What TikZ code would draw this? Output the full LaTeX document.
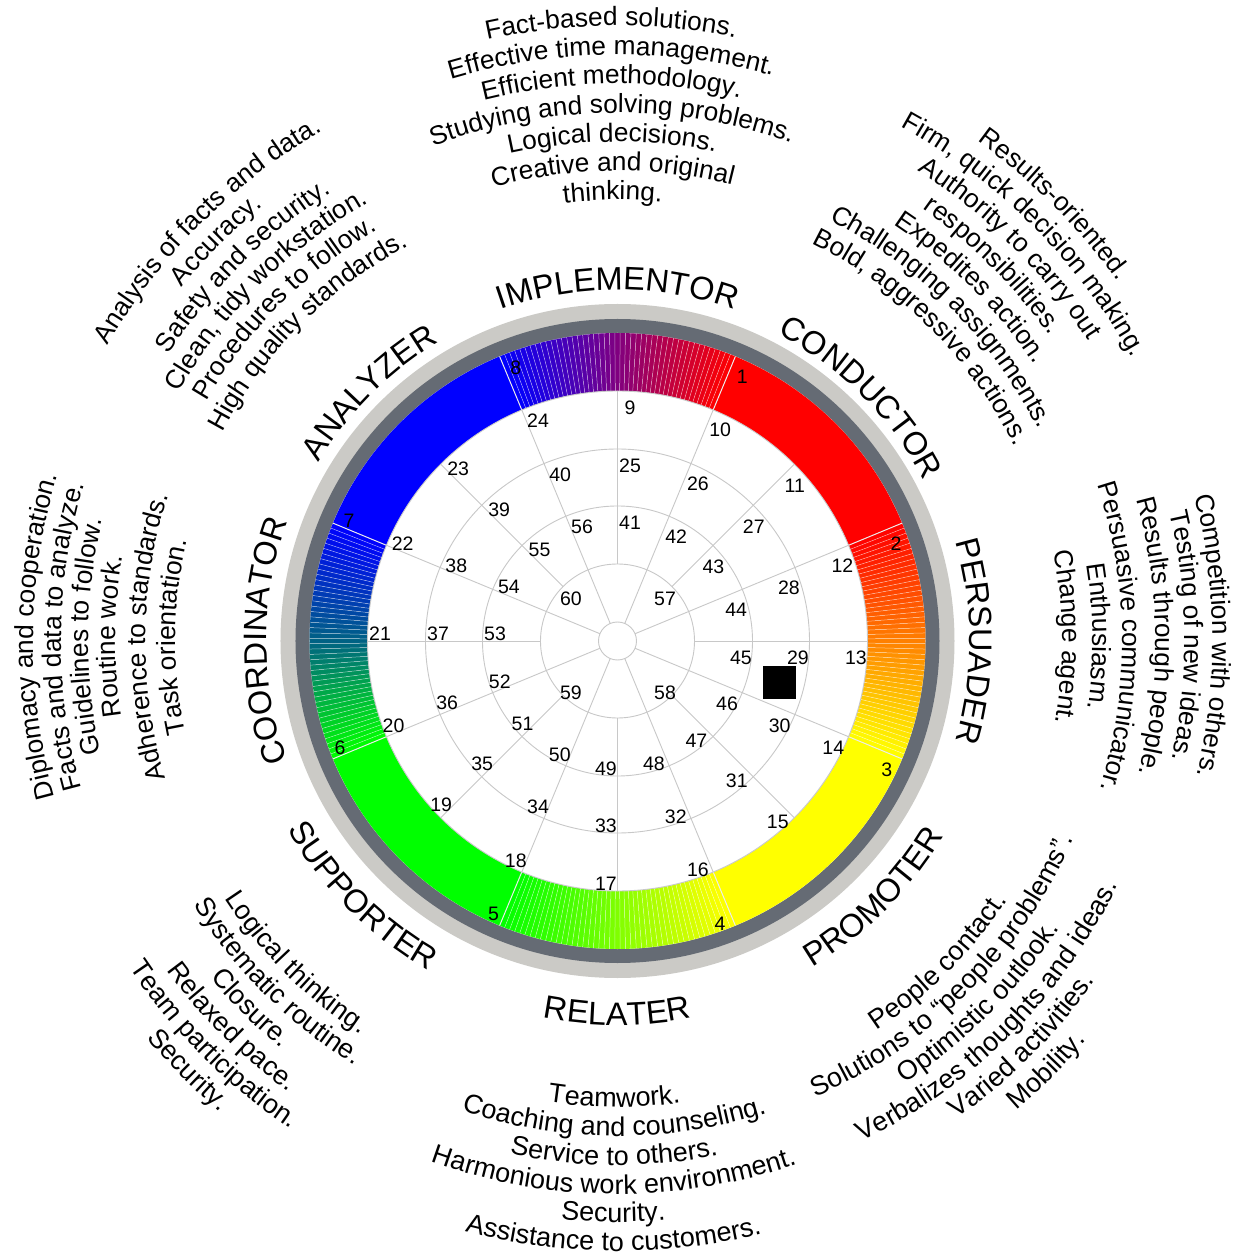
\documentclass[tikz,border=0pt]{standalone}
\usepackage{fontspec}
\setmainfont{Liberation Sans}
\usetikzlibrary{decorations.text,calc}
\definecolor{ringlight}{HTML}{CBCAC6}
\definecolor{ringdark}{HTML}{656B74}
\definecolor{gridgray}{HTML}{C8C8C8}
\definecolor{cRed}{RGB}{255,0,0}
\definecolor{cYellow}{RGB}{255,255,0}
\definecolor{cGreen}{RGB}{0,255,0}
\definecolor{cBlue}{RGB}{0,0,255}
\definecolor{implmid}{RGB}{128,0,128}
\definecolor{persmid}{RGB}{255,128,0}
\definecolor{relmid}{RGB}{128,255,0}
\definecolor{coordmid}{RGB}{0,98,132}
\newcommand\descfont{\fontsize{26.3}{30}\selectfont}
\newcommand\descinfont{\fontsize{27}{30}\selectfont}
\newcommand\namefont{\fontsize{32.5}{36}\selectfont}
\newcommand\numfont{\fontsize{19.5}{22}\selectfont}
% text on an arc, tops outward (clockwise path)
\newcommand\TxtOut[4][\descfont]{%
  \path[decorate,decoration={text along path,text align=center,text={|#1|#4}}]
    ({#2+75}:#3pt) arc[start angle={#2+75},end angle={#2-75},radius=#3pt];}
% text on an arc, tops inward (counter-clockwise path)
\newcommand\TxtIn[4][\descinfont]{%
  \path[decorate,decoration={text along path,text align=center,text={|#1|#4}}]
    ({#2-75}:#3pt) arc[start angle={#2-75},end angle={#2+75},radius=#3pt];}
\newcommand\Wedge[3]{%
  \fill[#3] (#1:250pt) arc[start angle=#1,end angle=#2,radius=250pt]
    -- (#2:308pt) arc[start angle=#2,end angle=#1,radius=308pt] -- cycle;}
\begin{document}
\begin{tikzpicture}[x=1pt,y=1pt,
  numlbl/.style={font=\numfont,inner sep=0pt},
  gridline/.style={draw=gridgray,line width=0.9pt},
  slicesep/.style={draw=white,line width=0.5pt,opacity=0.55},
  sectorsep/.style={draw=white!85!gray,line width=1pt}]
\useasboundingbox (-617.5pt,-617pt) rectangle (616.5pt,641pt);
\fill[white] (-617.5pt,-617pt) rectangle (616.5pt,641pt);
\coordinate (O) at (0,0);
% rings
\fill[ringlight] (O) circle[radius=337pt];
\fill[ringdark] (O) circle[radius=322pt];
\fill[white] (O) circle[radius=308pt];
% solid sectors
\Wedge{67.5}{22.5}{cRed}
\Wedge{-22.5}{-67.5}{cYellow}
\Wedge{-112.5}{-157.5}{cGreen}
\Wedge{157.5}{112.5}{cBlue}
% gradient sectors (two halves each)
\foreach \s/\c/\m/\d in {112.5/cBlue/implmid/cRed,22.5/cRed/persmid/cYellow,
   -67.5/cYellow/relmid/cGreen,-157.5/cGreen/coordmid/cBlue}{
  \foreach \i in {0,...,21}{
    \pgfmathsetmacro\aA{\s-\i}
    \pgfmathsetmacro\aB{\s-\i-1}
    \pgfmathsetmacro\p{(\i+0.5)/22.5*100}
    \Wedge{\aA}{\aB}{\m!\p!\c}
  }
  \pgfmathsetmacro\aA{\s-22}
  \pgfmathsetmacro\aB{\s-23}
  \Wedge{\aA}{\aB}{\m}
  \foreach \i in {23,...,44}{
    \pgfmathsetmacro\aA{\s-\i}
    \pgfmathsetmacro\aB{\s-\i-1}
    \pgfmathsetmacro\p{(\i+0.5-22.5)/22.5*100}
    \Wedge{\aA}{\aB}{\d!\p!\m}
  }
  \foreach \i in {1,...,44}{
    \pgfmathsetmacro\aA{\s-\i}
    \draw[slicesep] (\aA:250pt) -- (\aA:308pt);
  }
}
\foreach \a in {22.5,67.5,...,337.5}{\draw[sectorsep] (\a:250pt) -- (\a:308pt);}
\fill[white] (O) circle[radius=250pt];
% grid
\foreach \r in {19,77,135,192,250}{\draw[gridline] (O) circle[radius=\r pt];}
\foreach \a in {22.5,67.5,...,337.5}{\draw[gridline] (\a:19pt) -- (\a:250pt);}
\foreach \a in {0,45,...,315}{\draw[gridline] (\a:77pt) -- (\a:250pt);}
% numbers
\foreach \n in {1,...,8}{
  \pgfmathsetmacro\a{67.5-(\n-1)*45}
  \node[numlbl] (n\n) at ($(\a:308pt)+({\a-135}:17pt)+(0.5pt,-4.5pt)$) {\n};}
\foreach \n in {9,...,24}{
  \pgfmathsetmacro\a{90-(\n-9)*22.5}
  \node[numlbl] (n\n) at ($(\a:250pt)+({\a-135}:17pt)+(0.5pt,-4.5pt)$) {\n};}
\foreach \n in {25,...,40}{
  \pgfmathsetmacro\a{90-(\n-25)*22.5}
  \node[numlbl] (n\n) at ($(\a:192pt)+({\a-135}:17pt)+(0.5pt,-4.5pt)$) {\n};}
\foreach \n in {41,...,56}{
  \pgfmathsetmacro\a{90-(\n-41)*22.5}
  \node[numlbl] (n\n) at ($(\a:135pt)+({\a-135}:17pt)+(0.5pt,-4.5pt)$) {\n};}
\foreach \n in {57,...,60}{
  \pgfmathsetmacro\a{45-(\n-57)*90}
  \node[numlbl] (n\n) at ($(\a:66.5pt)+(0.5pt,-4.5pt)$) {\n};}
% marker
\node[fill=black,minimum size=33pt,inner sep=0pt] (marker) at (161.5pt,-41.3pt) {};
% names
\TxtOut[\namefont]{90}{351}{IMPLEMENTOR}
\TxtOut[\namefont]{45}{346}{CONDUCTOR}
\TxtOut[\namefont]{0}{352}{PERSUADER}
\TxtOut[\namefont]{135}{348}{ANALYZER}
\TxtOut[\namefont]{180}{351}{COORDINATOR}
\TxtIn[\namefont]{-90}{384}{RELATER}
\TxtIn[\namefont]{-45}{380}{PROMOTER}
\TxtIn[\namefont]{-135}{380}{SUPPORTER}
% implementor
\TxtOut{90.6}{615}{Fact-based solutions.}
\TxtOut{90.6}{586}{Effective time management.}
\TxtOut{90.6}{557}{Efficient methodology.}
\TxtOut{90.6}{528}{Studying and solving problems.}
\TxtOut{90.6}{499}{Logical decisions.}
\TxtOut{90.6}{470}{Creative and original}
\TxtOut{90.6}{441}{thinking.}
% conductor
\TxtOut{45}{616}{Results-oriented.}
\TxtOut{45}{587}{Firm, quick decision making.}
\TxtOut{45}{558}{Authority to carry out}
\TxtOut{45}{529}{responsibilities.}
\TxtOut{45}{500}{Expedites action.}
\TxtOut{45}{471}{Challenging assignments.}
\TxtOut{45}{442}{Bold, aggressive actions.}
% persuader
\TxtOut{0.5}{595}{Competition with others.}
\TxtOut{0.5}{567}{Testing of new ideas.}
\TxtOut{0.5}{538}{Results through people.}
\TxtOut{0.5}{505}{Persuasive communicator.}
\TxtOut{0.5}{475}{Enthusiasm.}
\TxtOut{0.5}{445}{Change agent.}
% analyzer
\TxtOut{135}{589}{Analysis of facts and data.}
\TxtOut{135}{561}{Accuracy.}
\TxtOut{135}{532}{Safety and security.}
\TxtOut{135}{504}{Clean, tidy workstation.}
\TxtOut{135}{476}{Procedures to follow.}
\TxtOut{135}{447}{High quality standards.}
% coordinator
\TxtOut{179.5}{584}{Diplomacy and cooperation.}
\TxtOut{179.5}{556}{Facts and data to analyze.}
\TxtOut{179.5}{529}{Guidelines to follow.}
\TxtOut{179.5}{502}{Routine work.}
\TxtOut{179.5}{472}{Adherence to standards.}
\TxtOut{179.5}{442}{Task orientation.}
% relater
\TxtIn{-90.4}{466}{Teamwork.}
\TxtIn{-90.4}{495}{Coaching and counseling.}
\TxtIn{-90.4}{524}{Service to others.}
\TxtIn{-90.4}{553}{Harmonious work environment.}
\TxtIn{-90.4}{581}{Security.}
\TxtIn{-90.4}{610}{Assistance to customers.}
% promoter
\TxtIn{-45}{468}{People contact.}
\TxtIn{-45}{497}{Solutions to “people problems”.}
\TxtIn{-45}{527}{Optimistic outlook.}
\TxtIn{-45}{557}{Verbalizes thoughts and ideas.}
\TxtIn{-45}{586}{Varied activities.}
\TxtIn{-45}{616}{Mobility.}
% supporter
\TxtIn{-135}{470}{Logical thinking.}
\TxtIn{-135}{499}{Systematic routine.}
\TxtIn{-135}{528}{Closure.}
\TxtIn{-135}{558}{Relaxed pace.}
\TxtIn{-135}{587}{Team participation.}
\TxtIn{-135}{616}{Security.}
\end{tikzpicture}
\end{document}
